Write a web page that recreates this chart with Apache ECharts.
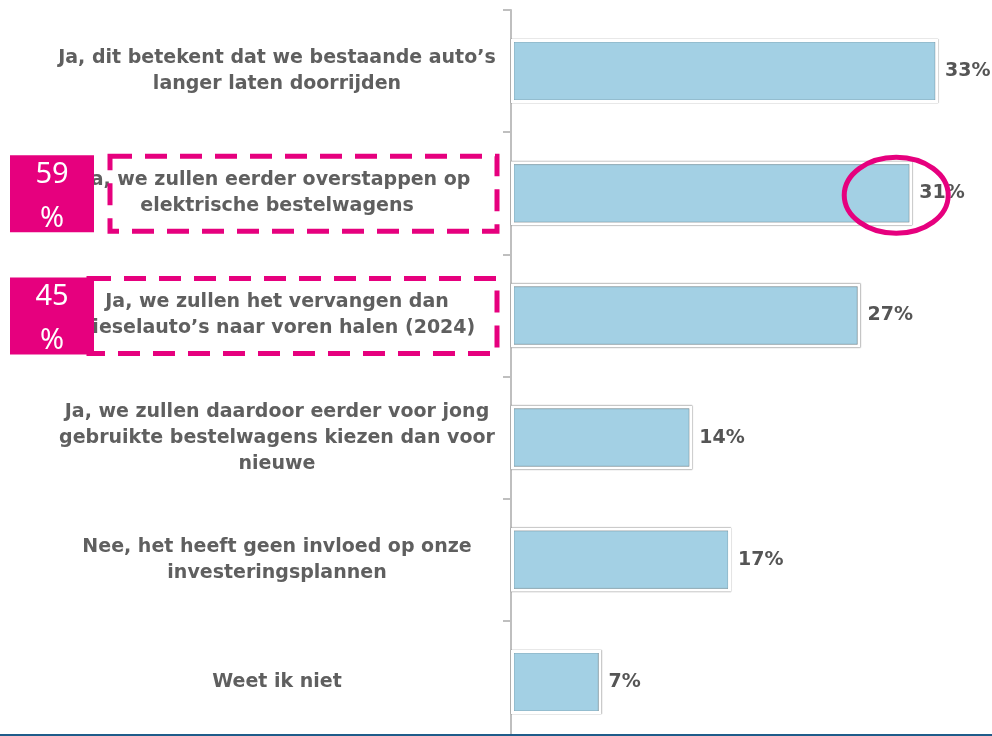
<!DOCTYPE html>
<html>
<head>
<meta charset="utf-8">
<script src="https://cdn.jsdelivr.net/npm/echarts@6/dist/echarts.min.js"></script>
<style>html,body{margin:0;padding:0;background:#fff;overflow:hidden}#c{width:992px;height:746px}</style>
</head>
<body>
<div id="c"></div>
<script>
const categories = [
  "Ja, dit betekent dat we bestaande auto\u2019s\nlanger laten doorrijden",
  "Ja, we zullen eerder overstappen op\nelektrische bestelwagens",
  "Ja, we zullen het vervangen dan\ndieselauto\u2019s naar voren halen (2024)",
  "Ja, we zullen daardoor eerder voor jong\ngebruikte bestelwagens kiezen dan voor\nnieuwe",
  "Nee, het heeft geen invloed op onze\ninvesteringsplannen",
  "Weet ik niet"
];
const values = [33, 31, 27, 14, 17, 7];
const highlightLabels = ["59\n%", "45\n%"];
const highlightIndex = [1, 2];

const PINK = '#e6007e';
const FONT = 'DejaVu Sans';
const chart = echarts.init(document.getElementById('c'));
chart.setOption({
  animation: false,
  grid: { left: 511, top: 10, width: 453, height: 733, containLabel: false },
  xAxis: { type: 'value', min: 0, max: 35, show: false },
  yAxis: {
    type: 'category', inverse: true, data: categories,
    axisLine: { show: true, lineStyle: { color: '#bfbfbf', width: 2 } },
    axisTick: { show: true, length: 8, lineStyle: { color: '#bfbfbf', width: 2 } },
    axisLabel: {
      align: 'center', margin: 234, fontSize: 19, fontWeight: 'bold',
      color: '#5f5f5f', lineHeight: 26, fontFamily: FONT
    }
  },
  series: [{
    type: 'bar', data: values, barWidth: 64,
    itemStyle: {
      color: '#a3d0e4', borderColor: '#ffffff', borderWidth: 3,
      shadowColor: 'rgba(0,0,0,0.9)', shadowBlur: 1
    },
    label: {
      show: true, position: 'right', distance: 7, formatter: '{c}%',
      fontSize: 19, color: '#555555', fontFamily: FONT, fontWeight: 'bold'
    }
  }]
});

// annotations positioned from the chart's own scales
const elements = [];
const dashX = [110, 89];
highlightIndex.forEach(function (idx, k) {
  const cy = chart.convertToPixel({ yAxisIndex: 0 }, idx);
  elements.push({
    type: 'rect', z: 10,
    shape: { x: dashX[k], y: cy - 37, width: 497 - dashX[k], height: 75 },
    style: { fill: 'none', stroke: PINK, lineWidth: 5, lineDash: [22, 13] }
  });
  elements.push({
    type: 'rect', z: 11,
    shape: { x: 10, y: cy - 38, width: 84, height: 77 },
    style: { fill: PINK }
  });
  elements.push({
    type: 'text', z: 12, x: 52, y: cy + 3,
    style: {
      text: highlightLabels[k], fill: '#fff', fontSize: 29, lineHeight: 44,
      fontFamily: 'Noto Sans', align: 'center', verticalAlign: 'middle'
    }
  });
});
const p = chart.convertToPixel({ gridIndex: 0 }, [values[1], 1]);
elements.push({
  type: 'ellipse', z: 12,
  shape: { cx: p[0] - 16, cy: p[1] + 2, rx: 52, ry: 38 },
  style: { fill: 'none', stroke: PINK, lineWidth: 5 }
});
elements.push({
  type: 'line', z: 12,
  shape: { x1: 0, y1: 735, x2: 992, y2: 735 },
  style: { stroke: '#1f5c8a', lineWidth: 2 }
});
chart.setOption({ graphic: { elements: elements } });
</script>
</body>
</html>
